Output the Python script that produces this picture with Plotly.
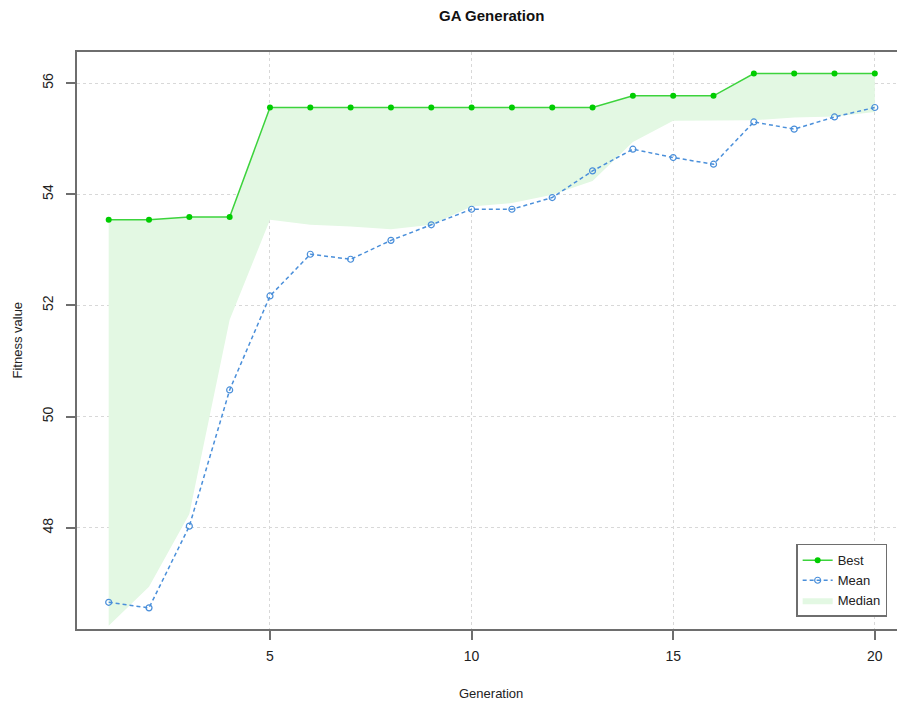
import plotly.graph_objects as go

# GA run summary per generation
generation = list(range(1, 21))
best = [53.54, 53.54, 53.59, 53.59, 55.56, 55.56, 55.56, 55.56, 55.56, 55.56,
        55.56, 55.56, 55.56, 55.77, 55.77, 55.77, 56.17, 56.17, 56.17, 56.17]
mean = [46.66, 46.56, 48.03, 50.48, 52.17, 52.92, 52.83, 53.17, 53.45, 53.73,
        53.73, 53.94, 54.42, 54.81, 54.66, 54.54, 55.30, 55.17, 55.39, 55.56]
median = [46.24, 46.94, 48.25, 51.74, 53.54, 53.45, 53.42, 53.37, 53.45, 53.78,
          53.84, 53.99, 54.24, 54.94, 55.32, 55.32, 55.33, 55.38, 55.40, 55.48]

x_ticks = [5, 10, 15, 20]
y_ticks = [48, 50, 52, 54, 56]

GREEN = "#00CD00"
GREEN_LINE = "#3CD33C"
BLUE = "#4A8FDA"
FILL = "#E3F8E3"
AXIS = "#6E6E6E"
GRID = "#D8D8D8"
FONT = "Liberation Sans, Arial, sans-serif"

fig = go.Figure()

# lower edge of the median band (hidden)
fig.add_trace(go.Scatter(
    x=generation, y=median, mode="lines", line=dict(width=0),
    hoverinfo="skip", showlegend=False,
))
# band between median and best
fig.add_trace(go.Scatter(
    x=generation, y=best, mode="lines", line=dict(width=0, color=FILL),
    fill="tonexty", fillcolor=FILL, name="Median", legendrank=3,
))
fig.add_trace(go.Scatter(
    x=generation, y=best, mode="lines+markers", name="Best", legendrank=1,
    line=dict(color=GREEN_LINE, width=1.5),
    marker=dict(symbol="circle", size=6, color=GREEN),
))
fig.add_trace(go.Scatter(
    x=generation, y=mean, mode="lines+markers", name="Mean", legendrank=2,
    line=dict(color=BLUE, width=1.5, dash="4px,3px"),
    marker=dict(symbol="circle-open", size=6, color=BLUE, line=dict(width=1.2)),
))

plot_h = 708 - 52 - 79

fig.update_layout(
    width=897, height=708,
    margin=dict(l=77, r=0, t=52, b=79),
    paper_bgcolor="white", plot_bgcolor="white",
    font=dict(family=FONT, size=13, color="#222222"),
    showlegend=True,
    legend=dict(
        x=0.988, y=0.021, xanchor="right", yanchor="bottom",
        traceorder="normal",
        bgcolor="white", bordercolor=AXIS, borderwidth=1.5,
        font=dict(size=13), tracegroupgap=0, itemwidth=30,
    ),
)

# chart title and axis titles
fig.add_annotation(text="<b>GA Generation</b>", xref="paper", yref="paper",
                   x=0.505, y=1 + (52 - 15) / plot_h, showarrow=False,
                   font=dict(size=15, color="#111111"), yanchor="middle")
fig.add_annotation(text="Generation", xref="paper", yref="paper",
                   x=0.505, y=-(693 - 629) / plot_h, showarrow=False,
                   font=dict(size=13), yanchor="middle")
fig.add_annotation(text="Fitness value", xref="paper", yref="paper",
                   x=-(77 - 17) / 820, y=0.5, showarrow=False, textangle=-90,
                   font=dict(size=13), xanchor="center", yanchor="middle")

fig.update_xaxes(
    range=[0.214, 20.55], tickvals=x_ticks, ticktext=[str(v) for v in x_ticks],
    showline=True, linecolor=AXIS, linewidth=2, mirror=True,
    ticks="outside", ticklen=9, tickwidth=1.5, tickcolor=AXIS,
    showgrid=True, gridcolor=GRID, griddash="dot", gridwidth=1,
    zeroline=False, tickfont=dict(size=14), ticklabelstandoff=4,
)
fig.update_yaxes(
    range=[46.18, 56.558], tickvals=y_ticks, ticktext=[str(v) for v in y_ticks],
    showline=True, linecolor=AXIS, linewidth=2, mirror=False,
    ticks="outside", ticklen=9, tickwidth=1.5, tickcolor=AXIS, tickangle=-90,
    showgrid=True, gridcolor=GRID, griddash="dot", gridwidth=1,
    zeroline=False, tickfont=dict(size=14), ticklabelstandoff=7,
)

fig.write_html("out.html")
